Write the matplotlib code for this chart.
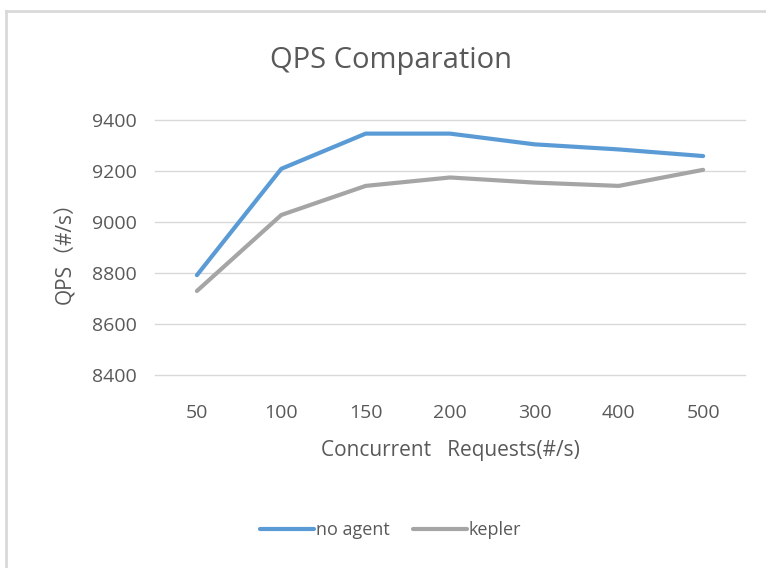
import matplotlib
matplotlib.use("Agg")
import matplotlib.pyplot as plt
from matplotlib.lines import Line2D

# data
categories = ["50", "100", "150", "200", "300", "400", "500"]
no_agent = [8791, 9208, 9346, 9346, 9304, 9284, 9258]
kepler = [8729, 9027, 9141, 9174, 9154, 9141, 9204]
y_ticks = [8400, 8600, 8800, 9000, 9200, 9400]

plt.rcParams["font.family"] = ["Open Sans", "Noto Sans CJK SC", "DejaVu Sans"]
TXT = "#595959"

fig = plt.figure(figsize=(7.66, 5.68), dpi=100)
ax = fig.add_axes([0.202, 0.340, 0.771, 0.449])

x = list(range(len(categories)))
ax.plot(x, no_agent, color="#5b9bd5", lw=3, label="no agent", solid_capstyle="round")
ax.plot(x, kepler, color="#a5a5a5", lw=3, label="kepler", solid_capstyle="round")

ax.set_xlim(-0.5, len(categories) - 0.5)
ax.set_ylim(8400, 9400)
ax.set_yticks(y_ticks)
ax.set_xticks(x)
ax.set_xticklabels(categories)
ax.grid(axis="y", color="#d9d9d9", lw=1)
for gl in ax.get_ygridlines():
    gl.set_clip_on(False)
ax.set_axisbelow(True)
for s in ax.spines.values():
    s.set_visible(False)
ax.tick_params(length=0, labelsize=14, colors=TXT)
ax.tick_params(axis="y", pad=13)
ax.tick_params(axis="x", pad=21)

ax.set_xlabel("Concurrent   Requests(#/s)", fontsize=15, color=TXT, labelpad=13)
ax.set_ylabel("QPS（#/s）", fontsize=15, color=TXT, labelpad=11)
fig.text(0.51, 0.893, "QPS Comparation", ha="center", va="center", fontsize=21, color=TXT)

leg = fig.legend(loc="center", bbox_to_anchor=(0.51, 0.067), ncol=2, frameon=False,
                 fontsize=13, handlelength=3.0, handletextpad=0.1, columnspacing=1.3)
for t in leg.get_texts():
    t.set_color(TXT)

# outer chart frame (top and left edges visible)
fig.add_artist(Line2D([0.008, 1.0], [1 - 11 / 568, 1 - 11 / 568], color="#d9d9d9", lw=2))
fig.add_artist(Line2D([0.008, 0.008], [0.0, 1 - 11 / 568], color="#d9d9d9", lw=2))

fig.savefig("out.png", dpi=100)
